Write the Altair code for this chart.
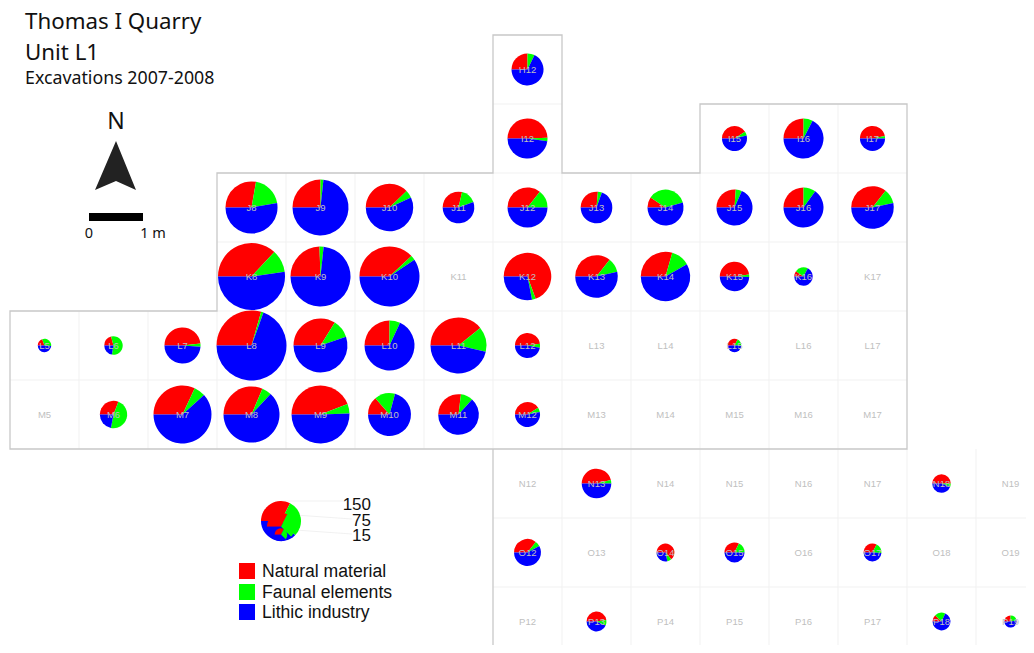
import math
import altair as alt
import pandas as pd

# ---- pie data: square label, total finds, sweep (degrees) of natural and faunal shares
squares = ["H12","I12","I15","I16","I17",
           "J8","J9","J10","J11","J12","J13","J14","J15","J16","J17",
           "K8","K9","K10","K12","K13","K14","K15","K16",
           "L5","L6","L7","L8","L9","L10","L11","L12","L15",
           "M6","M7","M8","M9","M10","M11","M12",
           "N13","N18","O12","O14","O15","O17","P13","P18","P19"]
totals = [96,150,59,150,59,
          254,294,211,94,150,94,122,122,150,170,
          421,338,338,212,170,229,81,32,
          17,32,122,459,273,234,294,59,17,
          70,315,294,315,173,155,59,
          82,32,68,30,38,30,37,30,14]
natural_sweep = [90,178,147,90,168,
                 100,90,136,103,128,95,34,94,90,128,
                 133,88,137,250,128,106,172,35,
                 70,75,174,106,122,90,141,172,118,
                 111,115,113,159,49,97,148,
                 166,180,128,230,116,117,172,45,90]
faunal_sweep = [26,10,19,27,12,
                70,6,19,57,52,15,130,20,36,40,
                39,8,9,9,39,44,10,83,
                115,205,10,4,39,25,52,18,62,
                170,23,20,19,56,35,20,
                14,20,23,28,64,66,31,70,80]
empty_squares = ["K11","K17","L13","L14","L16","L17","M5","M13","M14","M15","M16","M17",
                 "N12","N14","N15","N16","N17","N19","O13","O16","O18","O19",
                 "P12","P14","P15","P16","P17"]
grid_rows = "HIJKLMNOP"

# legend
legend_totals = [150, 75, 15]
legend_natural = 117
legend_faunal = 108
categories = ["Natural material", "Faunal elements", "Lithic industry"]
colors = ["#ff0000", "#00ff00", "#0000ff"]

CELL = 69
RIGHT, BOTTOM = 1026, 645
def col_x(n):  # left edge of a column
    return 10 + CELL * (n - 5)
def row_y(i):  # top edge of a row
    return 35 + CELL * i
def centre(label):
    return col_x(int(label[1:])) + CELL / 2, row_y(grid_rows.index(label[0])) + CELL / 2

X = alt.Scale(domain=[8, RIGHT], range=[0, RIGHT - 8])
Y = alt.Scale(domain=[8, BOTTOM], range=[0, BOTTOM - 8])
R = alt.Scale(type="sqrt", domain=[0, 150], range=[0, 20])
x_enc = alt.X("x:Q", scale=X, axis=None)
y_enc = alt.Y("y:Q", scale=Y, axis=None)

# pies
def sectors(cx, cy, total, nat, fau, key):
    a0 = 270
    sw = [nat, fau, 360 - nat - fau]
    out = []
    for cat, s in zip(categories, sw):
        out.append(dict(x=cx, y=cy, total=total, cat=cat, key=key,
                        t0=math.radians(a0), t1=math.radians(a0 + s)))
        a0 += s
    return out

rows = []
for lab, tot, nat, fau in zip(squares, totals, natural_sweep, faunal_sweep):
    cx, cy = centre(lab)
    rows += sectors(cx, cy, tot, nat, fau, lab)
pies = pd.DataFrame(rows)

def pie_layer(df):
    return alt.Chart(df).mark_arc(clip=False).encode(
        x=x_enc, y=y_enc,
        theta=alt.Theta("t0:Q", scale=None, stack=False),
        theta2=alt.Theta2("t1:Q"),
        radius=alt.Radius("total:Q", scale=R),
        color=alt.Color("cat:N", scale=alt.Scale(domain=categories, range=colors), legend=None),
    )

# grid
seg = []
def h(y, a, b): seg.append(dict(x=a, x2=b, y=y, y2=y))
def v(x, a, b): seg.append(dict(x=x, x2=x, y=a, y2=b))
h(row_y(1), col_x(12), col_x(13))
h(row_y(2), col_x(12), col_x(13)); h(row_y(2), col_x(15), col_x(18))
h(row_y(3), col_x(8), col_x(18))
h(row_y(4), col_x(8), col_x(18))
h(row_y(5), col_x(5), col_x(18))
h(row_y(7), col_x(12), RIGHT); h(row_y(8), col_x(12), RIGHT)
for n in [6, 7, 8]: v(col_x(n), row_y(4), row_y(6))
for n in [9, 10, 11, 12]: v(col_x(n), row_y(2), row_y(6))
v(col_x(13), row_y(2), BOTTOM)
v(col_x(14), row_y(2), BOTTOM); v(col_x(15), row_y(2), BOTTOM)
for n in [16, 17]: v(col_x(n), row_y(1), BOTTOM)
v(col_x(18), row_y(6), BOTTOM); v(col_x(19), row_y(6), BOTTOM)
grid = alt.Chart(pd.DataFrame(seg)).mark_rule(color="#f1f1f1", strokeWidth=1).encode(
    x=x_enc, x2="x2:Q", y=y_enc, y2="y2:Q")

# outline
out_pts = [(12,8.84),(12,6),(5,6),(5,4),(8,4),(8,2),(12,2),(12,0),(13,0),(13,2),(15,2),(15,1),
           (18,1),(18,6),(12,6)]
outline_df = pd.DataFrame([dict(x=col_x(c), y=row_y(r), o=i) for i, (c, r) in enumerate(out_pts)])
outline = alt.Chart(outline_df).mark_line(color="#c8c8c8", strokeWidth=1.3).encode(
    x=x_enc, y=y_enc, order="o:Q")

# texts
def txt(rows, size, font, color="#111111", align="left", baseline="alphabetic"):
    return alt.Chart(pd.DataFrame(rows)).mark_text(
        fontSize=size, font=font, color=color, align=align, baseline=baseline
    ).encode(x=x_enc, y=y_enc, text="t:N")

lab_rows = []
for lab in squares + empty_squares:
    cx, cy = centre(lab)
    lab_rows.append(dict(x=cx, y=cy, t=lab))
labels = txt(lab_rows, 9.5, "Liberation Sans", color="#c0c0c0", align="center", baseline="middle")

T = "Noto Sans"
title1 = txt([dict(x=25, y=28.5, t="Thomas I Quarry"), dict(x=25, y=60, t="Unit L1")], 22.3, T)
title2 = txt([dict(x=25, y=84, t="Excavations 2007-2008")], 17.8, T)
north = txt([dict(x=116, y=129, t="N")], 23, T, align="center")
scale_txt = txt([dict(x=89, y=238, t="0"), dict(x=153, y=238, t="1 m")], 14.5, T, align="center")

# north arrow and scale bar
arrow_df = pd.DataFrame(dict(x=[95, 116, 136], y=[190, 141, 190], y2=[190, 181, 190]))
arrow = alt.Chart(arrow_df).mark_area(color="#222222").encode(x=x_enc, y=y_enc, y2="y2:Q")
bar_df = pd.DataFrame([dict(x=89, x2=143, y=213, y2=221)])
bar = alt.Chart(bar_df).mark_rect(color="#000000").encode(x=x_enc, x2="x2:Q", y=y_enc, y2="y2:Q")

# legend
l_rows = [[], [], []]
leg_bottom = 541
for i, tot in enumerate(legend_totals):
    r = 20 * math.sqrt(tot / 150)
    l_rows[i] = sectors(281, leg_bottom - r, tot, legend_natural, legend_faunal, str(tot))
leg_pies = [pie_layer(pd.DataFrame(r)) for r in l_rows]
leader = alt.Chart(pd.DataFrame([
    dict(x=281, x2=345, y=501, y2=501),
    dict(x=281, x2=352, y=514, y2=519),
    dict(x=281, x2=352, y=529, y2=534)])).mark_rule(color="#eeeeee", strokeWidth=0.8).encode(
    x=x_enc, x2="x2:Q", y=y_enc, y2="y2:Q")
leg_nums = txt([dict(x=371, y=510, t="150"), dict(x=371, y=526, t="75"), dict(x=371, y=541, t="15")],
               17, "Liberation Sans", color="#111111", align="right")
sw_y = [563, 584, 604]
sw_df = pd.DataFrame([dict(x=239, x2=255, y=y, y2=y + 16, cat=c) for y, c in zip(sw_y, categories)])
swatches = alt.Chart(sw_df).mark_rect().encode(
    x=x_enc, x2="x2:Q", y=y_enc, y2="y2:Q",
    color=alt.Color("cat:N", scale=alt.Scale(domain=categories, range=colors), legend=None))
sw_txt = txt([dict(x=262, y=y + 13.5, t=c) for y, c in zip(sw_y, categories)], 17.6, "Liberation Sans")

chart = alt.layer(grid, outline, pie_layer(pies), labels, title1, title2, north, scale_txt,
                  arrow, bar, leader, *leg_pies, leg_nums, swatches, sw_txt).properties(
    width=RIGHT - 8, height=BOTTOM - 8, padding=0,
    autosize=alt.AutoSizeParams(type="none"), background="white"
).configure_view(stroke=None)

chart.save("out.html", embed_options={"renderer": "svg", "actions": False})
